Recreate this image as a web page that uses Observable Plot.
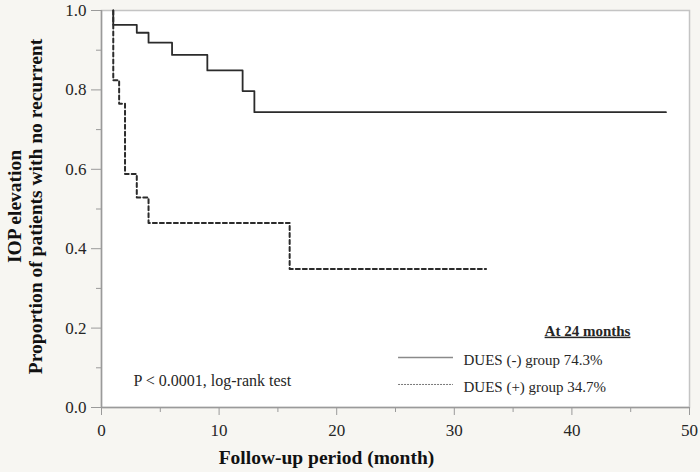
<!DOCTYPE html>
<html><head><meta charset="utf-8">
<script src="https://cdn.jsdelivr.net/npm/d3@7"></script>
<script src="https://cdn.jsdelivr.net/npm/@observablehq/plot@0.6"></script>
<style>body{margin:0;background:#f7f6f2}</style>
</head><body><div id="chart"></div>
<script>
// Kaplan-Meier curves
const negTime = [1, 1, 3, 4, 6, 9, 12, 13, 48];
const negSurv = [1.0, 0.964, 0.944, 0.919, 0.888, 0.849, 0.797, 0.744, 0.744];
const posTime = [1, 1, 1.5, 2, 3, 4, 16, 32.7];
const posSurv = [1.0, 0.824, 0.765, 0.588, 0.529, 0.465, 0.349, 0.349];

const xTicks = [0, 10, 20, 30, 40, 50];
const xMinor = [5, 15, 25, 35, 45];
const yTicks = [0, 0.2, 0.4, 0.6, 0.8, 1.0];
const yMinor = [0.1, 0.3, 0.5, 0.7, 0.9];

const legendTitle = "At 24 months";
const legendLabels = ["DUES (-) group 74.3%", "DUES (+) group 34.7%"];
const pText = "P < 0.0001, log-rank test";
const xLabel = "Follow-up period (month)";
const yLabel = ["Proportion of patients with no recurrent", "IOP elevation"];

// annotation anchor points (data units)
const legendLineX = [25.26, 29.93];
const legendLineY = [0.126, 0.058];
const legendTextX = 30.78;
const legendTextY = [0.106, 0.038];
const legendTitlePos = [41.33, 0.181];
const pTextPos = [2.72, 0.055];

const neg = negTime.map((t, i) => ({t, s: negSurv[i]}));
const pos = posTime.map((t, i) => ({t, s: posSurv[i]}));

const font = "'Liberation Serif', 'Times New Roman', serif";
const axisCol = "#9a9a9a";
const textCol = "#262626";

const chart = Plot.plot({
  width: 700,
  height: 472,
  marginTop: 10,
  marginRight: 11,
  marginBottom: 65,
  marginLeft: 101,
  style: {background: "#f7f6f2", fontFamily: font, fontSize: "17px", color: textCol},
  x: {domain: [0, 50]},
  y: {domain: [0, 1]},
  marks: [
    Plot.frame({fill: "white", stroke: "#c4c4c4", strokeWidth: 1.5}),
    Plot.axisX({ticks: xTicks, tickSize: 8, tickPadding: 8, stroke: axisCol, fill: textCol, fontSize: 17, tickFormat: d => d, label: null}),
    Plot.axisX({ticks: xMinor, tickSize: 5, stroke: axisCol, tickFormat: () => "", label: null}),
    Plot.axisY({ticks: yTicks, tickSize: 10, tickPadding: 5, stroke: axisCol, fill: textCol, fontSize: 17, tickFormat: d3.format(".1f"), label: null}),
    Plot.axisY({ticks: yMinor, tickSize: 5, stroke: axisCol, tickFormat: () => "", label: null}),
    Plot.ruleX([0], {stroke: axisCol, strokeWidth: 1.5}),
    Plot.ruleY([0], {stroke: axisCol, strokeWidth: 1.5}),
    Plot.line(neg, {x: "t", y: "s", curve: "step-after", stroke: "#2b2b2b", strokeWidth: 1.8}),
    Plot.line(pos, {x: "t", y: "s", curve: "step-after", stroke: "#2b2b2b", strokeWidth: 2, strokeDasharray: "4,3"}),
    // legend
    Plot.ruleY([legendLineY[0]], {x1: legendLineX[0], x2: legendLineX[1], stroke: "#8a8a8a", strokeWidth: 1.5}),
    Plot.ruleY([legendLineY[1]], {x1: legendLineX[0], x2: legendLineX[1], stroke: "#777", strokeWidth: 1, strokeDasharray: "2,1"}),
    Plot.text(legendLabels, {x: legendTextX, y: (d, i) => legendTextY[i], text: d => d, textAnchor: "start", lineAnchor: "bottom", fontSize: 15, fill: textCol}),
    Plot.text([legendTitle], {x: legendTitlePos[0], y: legendTitlePos[1], text: d => d, lineAnchor: "bottom", fontSize: 15, fontWeight: "bold", fill: textCol}),
    Plot.text([pText], {x: pTextPos[0], y: pTextPos[1], text: d => d, textAnchor: "start", lineAnchor: "bottom", fontSize: 16, fill: textCol}),
    // axis titles
    Plot.text([xLabel], {frameAnchor: "bottom", text: d => d, textAnchor: "middle", dx: -69, dy: 56, lineAnchor: "bottom", fontSize: 19.5, fontWeight: "bold", fill: "#111"}),
    Plot.text([yLabel[0]], {frameAnchor: "left", text: d => d, textAnchor: "middle", rotate: -90, dx: -59.5, dy: -2.5, lineAnchor: "bottom", fontSize: 19.5, fontWeight: "bold", fill: "#111"}),
    Plot.text([yLabel[1]], {frameAnchor: "left", text: d => d, textAnchor: "middle", rotate: -90, dx: -81, dy: -2.5, lineAnchor: "bottom", fontSize: 19.5, fontWeight: "bold", fill: "#111"})
  ]
});

d3.select(chart).selectAll("text")
  .filter(function() { return this.textContent === legendTitle; })
  .attr("text-decoration", "underline");

document.getElementById("chart").appendChild(chart);
</script>
</body></html>
